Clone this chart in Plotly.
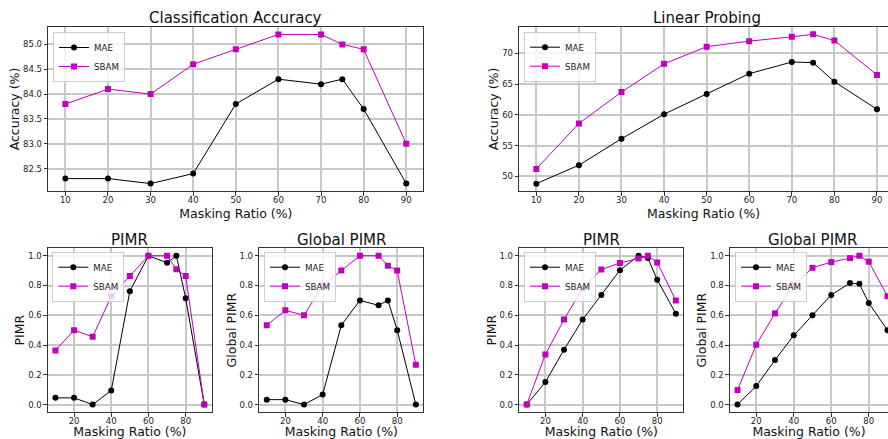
import plotly.graph_objects as go

# ---------------- data ----------------
ratios = [10, 20, 30, 40, 50, 60, 70, 75, 80, 90]

cls_mae = [82.3, 82.3, 82.2, 82.4, 83.8, 84.3, 84.2, 84.3, 83.7, 82.2]
cls_sbam = [83.8, 84.1, 84.0, 84.6, 84.9, 85.2, 85.2, 85.0, 84.9, 83.0]

lin_mae = [48.8, 51.8, 56.1, 60.1, 63.4, 66.7, 68.6, 68.5, 65.4, 60.9]
lin_sbam = [51.2, 58.6, 63.7, 68.3, 71.1, 72.0, 72.7, 73.1, 72.1, 66.5]

pimr_cls_mae = [0.045, 0.045, 0.0, 0.094, 0.762, 1.0, 0.953, 1.0, 0.715, 0.0]
pimr_cls_sbam = [0.364, 0.5, 0.455, 0.727, 0.864, 1.0, 1.0, 0.909, 0.864, 0.0]

gpimr_cls_mae = [0.033, 0.033, 0.0, 0.067, 0.533, 0.7, 0.667, 0.7, 0.5, 0.0]
gpimr_cls_sbam = [0.533, 0.633, 0.6, 0.8, 0.9, 1.0, 1.0, 0.933, 0.9, 0.267]

pimr_lin_mae = [0.0, 0.151, 0.369, 0.571, 0.737, 0.903, 1.0, 0.984, 0.838, 0.611]
pimr_lin_sbam = [0.0, 0.337, 0.571, 0.782, 0.908, 0.951, 0.982, 1.0, 0.955, 0.699]

gpimr_lin_mae = [0.0, 0.124, 0.299, 0.465, 0.6, 0.737, 0.816, 0.811, 0.683, 0.499]
gpimr_lin_sbam = [0.097, 0.402, 0.613, 0.802, 0.919, 0.957, 0.984, 1.0, 0.96, 0.728]

titles = ["Classification Accuracy", "Linear Probing", "PIMR", "Global PIMR", "PIMR", "Global PIMR"]
ylabels = ["Accuracy (%)", "Accuracy (%)", "PIMR", "Global PIMR", "PIMR", "Global PIMR"]
xlabel = "Masking Ratio (%)"

W, H = 888, 439
FONT = "DejaVu Sans"
MAG = "#bf00bf"

# panel boxes in pixels: (left, right, top, bottom)
panels = [
    (48.3, 423.3, 27.0, 191.0),
    (519.3, 888.0, 27.0, 191.0),
    (48.0, 211.7, 248.3, 412.0),
    (259.3, 423.3, 248.3, 412.0),
    (519.3, 683.3, 248.3, 412.0),
    (730.0, 888.0, 248.3, 412.0),
]
# full (uncropped) right edges, used for the px-per-unit scale
full_right = [423.3, 894.0, 211.7, 423.3, 683.3, 895.0]

series = [
    (cls_mae, cls_sbam),
    (lin_mae, lin_sbam),
    (pimr_cls_mae, pimr_cls_sbam),
    (gpimr_cls_mae, gpimr_cls_sbam),
    (pimr_lin_mae, pimr_lin_sbam),
    (gpimr_lin_mae, gpimr_lin_sbam),
]

yranges = [[82.05, 85.35], [47.6, 74.3]] + [[-0.05, 1.05]] * 4
yticks = [
    dict(tickvals=[82.5, 83.0, 83.5, 84.0, 84.5, 85.0], tickformat=".1f"),
    dict(tickvals=[50, 55, 60, 65, 70]),
] + [dict(tickvals=[0, 0.2, 0.4, 0.6, 0.8, 1.0], tickformat=".1f")] * 4
xtickvals = [[10, 20, 30, 40, 50, 60, 70, 80, 90]] * 2 + [[20, 40, 60, 80]] * 4

legend_pos = [(53, 32), (524, 31.7), (52.3, 251.7), (264, 251.7), (524, 251.7), (735, 251.7)]

fig = go.Figure()
layout = dict(
    width=W, height=H, margin=dict(l=0, r=0, t=0, b=0),
    paper_bgcolor="white", plot_bgcolor="white",
    font=dict(family=FONT, color="#222222"),
    annotations=[],
)

for i, ((L, R, T, B), (mae, sbam)) in enumerate(zip(panels, series)):
    k = "" if i == 0 else str(i + 1)
    xa, ya = "x" + k, "y" + k
    lg = "legend" + k
    fig.add_trace(go.Scatter(x=ratios, y=mae, name="MAE", mode="lines+markers",
                             line=dict(color="black", width=1),
                             marker=dict(symbol="circle", size=6, color="black"),
                             xaxis=xa, yaxis=ya, legend=lg))
    fig.add_trace(go.Scatter(x=ratios, y=sbam, name="SBAM", mode="lines+markers",
                             line=dict(color=MAG, width=1),
                             marker=dict(symbol="square", size=6, color=MAG),
                             xaxis=xa, yaxis=ya, legend=lg))
    cropped = R < full_right[i] - 1
    ppu = (full_right[i] - L) / 88.0
    xr = [6, 6 + (R - L) / ppu]
    layout["xaxis" + k] = dict(
        domain=[L / W, R / W], range=xr, anchor=ya,
        tickvals=xtickvals[i], ticks="outside", ticklen=3.5, tickwidth=1, tickcolor="#333",
        ticklabelstandoff=-3,
        showline=True, mirror=True, linecolor="#333", linewidth=1.2,
        showgrid=True, gridcolor="#c8c8c8", gridwidth=1.6, zeroline=False,
        tickfont=dict(size=8.5, family=FONT, color="#222"),
        title=dict(text=xlabel, font=dict(size=12.5, family=FONT, color="#111"), standoff=5),
    )
    layout["yaxis" + k] = dict(
        domain=[1 - B / H, 1 - T / H], range=yranges[i], anchor=xa,
        ticks="outside", ticklen=3.5, tickwidth=1, tickcolor="#333",
        showline=True, mirror=(not cropped), linecolor="#333", linewidth=1.2,
        showgrid=True, gridcolor="#c8c8c8", gridwidth=1.6, zeroline=False,
        tickfont=dict(size=8.5, family=FONT, color="#222"),
        title=dict(text=ylabels[i], font=dict(size=12.5, family=FONT, color="#111"), standoff=0),
        **yticks[i],
    )
    lx, ly = legend_pos[i]
    layout[lg] = dict(
        x=lx / W, y=1 - ly / H, xanchor="left", yanchor="top",
        xref="paper", yref="paper",
        bgcolor="rgba(255,255,255,0.8)", bordercolor="#cccccc", borderwidth=1,
        font=dict(size=8.7, family=FONT, color="#222"),
        itemwidth=30, tracegroupgap=0,
    )
    cx = (L + full_right[i]) / 2
    ty = 18 if i < 2 else 240
    layout["annotations"].append(dict(
        text=titles[i], x=cx / W, y=1 - ty / H, xref="paper", yref="paper",
        xanchor="center", yanchor="middle", showarrow=False,
        font=dict(size=15, family=FONT, color="#111"),
    ))

fig.update_layout(**layout)
fig.write_html(
    "out.html",
    config={"displayModeBar": False},
    post_script="document.body.style.margin='0';document.body.style.overflow='hidden';",
)
